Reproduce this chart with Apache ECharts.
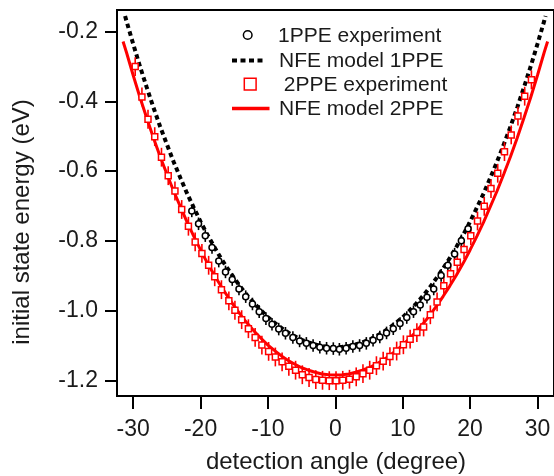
<!DOCTYPE html>
<html><head><meta charset="utf-8">
<script src="https://cdn.jsdelivr.net/npm/echarts@6/dist/echarts.min.js"></script>
<style>html,body{margin:0;padding:0;background:#fff}#c{width:554px;height:476px}</style>
</head><body><div id="c"></div>
<script>
// tick labels
const xTicks = [-30, -20, -10, 0, 10, 20, 30];
const yTicks = [-1.2, -1.0, -0.8, -0.6, -0.4, -0.2];
const xTitle = 'detection angle (degree)';
const yTitle = 'initial state energy (eV)';
const legendNames = ['1PPE experiment', 'NFE model 1PPE', ' 2PPE experiment', 'NFE model 2PPE'];

// 1PPE experiment (black circles)
const exp1X = [-21.3,-20.3,-19.3,-18.3,-17.3,-16.3,-15.3,-14.3,-13.3,-12.3,-11.3,-10.3,-9.4,-8.4,-7.4,-6.3,-5.3,-4.3,-3.3,-2.3,-1.3,-0.3,0.6,1.6,2.6,3.6,4.6,5.6,6.6,7.6,8.6,9.6,10.6,11.6,12.6,13.6,14.6,15.7,16.7,17.7,18.7,19.7];
const exp1Y = [-0.714,-0.751,-0.785,-0.819,-0.858,-0.889,-0.911,-0.938,-0.960,-0.981,-1.003,-1.023,-1.039,-1.053,-1.065,-1.077,-1.087,-1.094,-1.100,-1.105,-1.108,-1.109,-1.111,-1.108,-1.103,-1.100,-1.094,-1.085,-1.076,-1.064,-1.052,-1.037,-1.020,-1.003,-0.984,-0.962,-0.938,-0.899,-0.870,-0.838,-0.800,-0.765];
const exp1Err = 0.018;

// 2PPE experiment (red squares)
const exp2X = [-29.7,-28.7,-27.8,-26.8,-25.8,-24.8,-23.8,-22.8,-21.8,-20.8,-19.8,-18.8,-17.9,-16.9,-15.8,-14.9,-13.9,-12.9,-11.9,-10.9,-9.9,-8.9,-7.9,-6.9,-5.9,-4.9,-3.9,-2.9,-1.9,-0.9,0.1,1.1,2.1,3.1,4.1,5.1,6.1,7.1,8.1,9.1,10.1,11.1,12.1,13.1,14.1,15.1,16.1,17.1,18.1,19.1,20.1,21.1,22.1,23.1,24.1,25.1,26.1,27.1,28.1,29.1];
const exp2Y = [-0.300,-0.387,-0.451,-0.501,-0.560,-0.613,-0.657,-0.710,-0.758,-0.803,-0.836,-0.870,-0.903,-0.940,-0.972,-0.999,-1.026,-1.052,-1.077,-1.099,-1.117,-1.133,-1.147,-1.160,-1.171,-1.184,-1.192,-1.198,-1.200,-1.201,-1.201,-1.200,-1.197,-1.190,-1.181,-1.171,-1.158,-1.145,-1.132,-1.116,-1.098,-1.082,-1.063,-1.047,-1.012,-0.975,-0.929,-0.894,-0.861,-0.825,-0.785,-0.743,-0.701,-0.650,-0.606,-0.544,-0.496,-0.442,-0.385,-0.338];
const exp2Err = 0.027;

// NFE model 1PPE (black dotted)
const model1X = [-31.2,-31,-30,-29,-28,-27,-26,-25,-24,-23,-22,-21,-20,-19,-18,-17,-16,-15,-14,-13,-12,-11,-10,-9,-8,-7,-6,-5,-4,-3,-2,-1,0,1,2,3,4,5,6,7,8,9,10,11,12,13,14,15,16,17,18,19,20,21,22,23,24,25,26,27,28,29,30,31,31.2];
const model1Y = [-0.155,-0.169,-0.235,-0.299,-0.359,-0.417,-0.472,-0.523,-0.573,-0.619,-0.664,-0.705,-0.745,-0.782,-0.816,-0.849,-0.879,-0.907,-0.934,-0.958,-0.980,-1.000,-1.019,-1.035,-1.050,-1.063,-1.074,-1.084,-1.091,-1.097,-1.102,-1.104,-1.105,-1.104,-1.102,-1.097,-1.091,-1.084,-1.074,-1.063,-1.050,-1.035,-1.019,-1.000,-0.980,-0.958,-0.934,-0.907,-0.879,-0.849,-0.816,-0.782,-0.745,-0.705,-0.664,-0.619,-0.573,-0.523,-0.472,-0.417,-0.359,-0.299,-0.235,-0.169,-0.155];

// NFE model 2PPE (red solid)
const model2X = [-31.5,-31,-30,-29,-28,-27,-26,-25,-24,-23,-22,-21,-20,-19,-18,-17,-16,-15,-14,-13,-12,-11,-10,-9,-8,-7,-6,-5,-4,-3,-2,-1,0,1,2,3,4,5,6,7,8,9,10,11,12,13,14,15,16,17,18,19,20,21,22,23,24,25,26,27,28,29,30,31,31.5];
const model2Y = [-0.228,-0.259,-0.325,-0.388,-0.447,-0.504,-0.558,-0.608,-0.657,-0.702,-0.746,-0.787,-0.826,-0.863,-0.897,-0.929,-0.959,-0.987,-1.014,-1.038,-1.060,-1.080,-1.099,-1.115,-1.130,-1.143,-1.154,-1.164,-1.171,-1.177,-1.182,-1.184,-1.185,-1.184,-1.182,-1.177,-1.171,-1.164,-1.154,-1.143,-1.130,-1.115,-1.099,-1.080,-1.060,-1.038,-1.014,-0.987,-0.959,-0.929,-0.897,-0.863,-0.826,-0.787,-0.746,-0.702,-0.657,-0.608,-0.558,-0.504,-0.447,-0.388,-0.325,-0.259,-0.228];

const FONT = '"Liberation Sans", Arial, Helvetica, sans-serif';
const TXT = '#1a1a1a';
const RED = '#ff0000';

const zip = (xs, ys) => xs.map((x, i) => [x, ys[i]]);

function errBar(color, err, width) {
  return function (params, api) {
    const x = api.value(0), y = api.value(1);
    const p1 = api.coord([x, y + err]);
    const p2 = api.coord([x, y - err]);
    return { type: 'line', shape: { x1: p1[0], y1: p1[1], x2: p2[0], y2: p2[1] },
             style: { stroke: color, lineWidth: width } };
  };
}

const chart = echarts.init(document.getElementById('c'), null, { renderer: 'canvas' });
chart.setOption({
  animation: false,
  backgroundColor: '#fff',
  grid: { left: 117, right: -2, top: 10, bottom: 80, show: true, borderColor: '#000', borderWidth: 2, backgroundColor: 'transparent' },
  xAxis: {
    type: 'value', min: -32.4, max: 32.45,
    axisLine: { show: true, onZero: false, lineStyle: { color: '#000', width: 2 } },
    axisTick: { show: true, inside: false, length: 13, lineStyle: { color: '#000', width: 2 }, customValues: xTicks },
    axisLabel: { customValues: xTicks, margin: 22, fontSize: 23, color: TXT, fontFamily: FONT, formatter: v => String(v) },
    splitLine: { show: false }
  },
  yAxis: {
    type: 'value', min: -1.245, max: -0.1377,
    axisLine: { show: true, onZero: false, lineStyle: { color: '#000', width: 2 } },
    axisTick: { show: true, inside: false, length: 12, lineStyle: { color: '#000', width: 2 }, customValues: yTicks },
    axisLabel: { customValues: yTicks, margin: 19, fontSize: 23, color: TXT, fontFamily: FONT, formatter: v => v.toFixed(1) },
    splitLine: { show: false }
  },
  series: [
    { name: legendNames[1], type: 'line', z: 2, data: zip(model1X, model1Y), showSymbol: false, symbol: 'none',
      lineStyle: { color: '#000', width: 4, type: [4.5, 3.5], cap: 'butt' } },
    { name: legendNames[3], type: 'line', z: 2, data: zip(model2X, model2Y), showSymbol: false, symbol: 'none',
      lineStyle: { color: RED, width: 3 } },
    { type: 'custom', z: 3, data: zip(exp1X, exp1Y), renderItem: errBar('#000', exp1Err, 1.6) },
    { type: 'custom', z: 3, data: zip(exp2X, exp2Y), renderItem: errBar(RED, exp2Err, 1.6) },
    { name: legendNames[0], type: 'scatter', z: 4, data: zip(exp1X, exp1Y), symbol: 'circle', symbolSize: 6,
      itemStyle: { color: '#fff', borderColor: '#000', borderWidth: 1.5, opacity: 1 } },
    { name: legendNames[2], type: 'scatter', z: 4, data: zip(exp2X, exp2Y), symbol: 'rect', symbolSize: 6,
      itemStyle: { color: '#fff', borderColor: RED, borderWidth: 1.5, opacity: 1 } }
  ],
  graphic: [
    { type: 'circle', shape: { cx: 247.7, cy: 35, r: 4.3 }, style: { fill: '#fff', stroke: '#000', lineWidth: 1.5 } },
    { type: 'text', x: 278, y: 36, style: { text: legendNames[0], fontSize: 21, fontFamily: FONT, fill: TXT, verticalAlign: 'middle' } },
    { type: 'line', shape: { x1: 232, y1: 60.5, x2: 264, y2: 60.5 }, style: { stroke: '#000', lineWidth: 4, lineDash: [5, 3.5] } },
    { type: 'text', x: 279, y: 61, style: { text: legendNames[1], fontSize: 21, fontFamily: FONT, fill: TXT, verticalAlign: 'middle' } },
    { type: 'rect', shape: { x: 244.3, y: 78.2, width: 11.8, height: 11.8 }, style: { fill: '#fff', stroke: RED, lineWidth: 1.5 } },
    { type: 'text', x: 278, y: 85, style: { text: legendNames[2], fontSize: 21, fontFamily: FONT, fill: TXT, verticalAlign: 'middle' } },
    { type: 'line', shape: { x1: 232, y1: 108.5, x2: 269.5, y2: 108.5 }, style: { stroke: RED, lineWidth: 3.3 } },
    { type: 'text', x: 279, y: 109, style: { text: legendNames[3], fontSize: 21, fontFamily: FONT, fill: TXT, verticalAlign: 'middle' } },
    { type: 'text', x: 336, y: 462, style: { text: xTitle, fontSize: 24, fontFamily: FONT, fill: TXT, align: 'center', verticalAlign: 'middle' } },
    { type: 'text', x: 22, y: 222, rotation: Math.PI / 2, style: { text: yTitle, fontSize: 24, fontFamily: FONT, fill: TXT, align: 'center', verticalAlign: 'middle' } }
  ]
});
</script>
</body></html>
